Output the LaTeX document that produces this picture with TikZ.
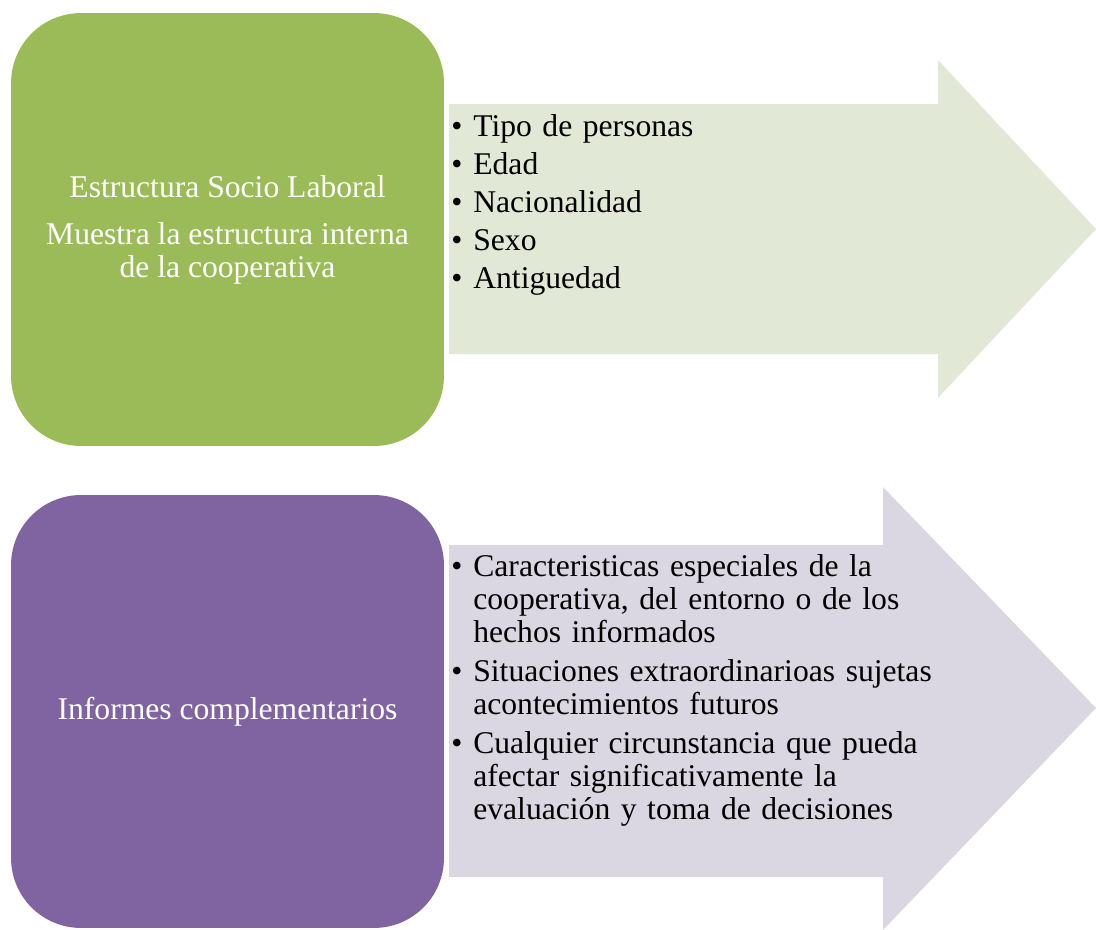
\documentclass[tikz,border=0pt]{standalone}
\usepackage{fontspec}
\setmainfont{Liberation Serif}
\definecolor{socioverde}{RGB}{155,187,89}
\definecolor{sociofondo}{RGB}{225,232,213}
\definecolor{informemorado}{RGB}{128,100,162}
\definecolor{informefondo}{RGB}{218,214,226}
\newcommand{\punto}{\par\noindent\llap{\makebox[0.44cm][l]{\textbullet}}}

\begin{document}
\begin{tikzpicture}[x=0.02cm, y=-0.02cm,
    caja/.style={rounded corners=1.4cm, minimum width=8.66cm, minimum height=8.66cm,
        inner sep=0pt, text=white, align=center, font=\fontsize{18pt}{18.8pt}\selectfont},
    lista/.style={anchor=north west, inner sep=0pt, text width=13cm, align=left,
        font=\fontsize{18pt}{18.8pt}\selectfont}]
    \useasboundingbox (0,0) rectangle (1096,930);

    % Flecha superior
    \fill[sociofondo] (449,104) -- (938,104) -- (938,60) -- (1096,229)
        -- (938,398) -- (938,354) -- (449,354) -- cycle;

    % Caja superior
    \node[caja, fill=socioverde] (estructura) at (227.5,229.5)
        {Estructura Socio Laboral\\[0.28cm]Muestra la estructura interna\\de la cooperativa};

    % Lista superior
    \node[lista] (listasocio) at (451,98) {\leftskip=0.44cm \parskip=0.1cm
        \punto Tipo de personas
        \punto Edad
        \punto Nacionalidad
        \punto Sexo
        \punto Antiguedad\par};

    % Flecha inferior
    \fill[informefondo] (449,545) -- (883,545) -- (883,487) -- (1096,708)
        -- (883,930) -- (883,877) -- (449,877) -- cycle;

    % Caja inferior
    \node[caja, fill=informemorado] (informes) at (227.5,711.5) {Informes complementarios};

    % Lista inferior
    \node[lista] (listainformes) at (451,537) {\leftskip=0.44cm \parskip=0.12cm
        \punto Caracteristicas especiales de la\newline cooperativa, del entorno o de los\newline hechos informados
        \punto Situaciones extraordinarioas sujetas\newline acontecimientos futuros
        \punto Cualquier circunstancia que pueda\newline afectar significativamente la\newline evaluación y toma de decisiones\par};
\end{tikzpicture}
\end{document}
